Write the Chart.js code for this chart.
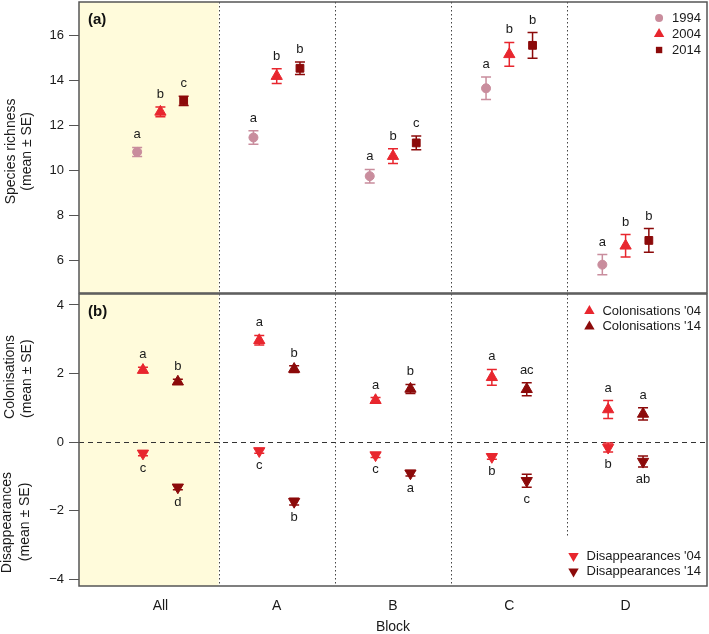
<!DOCTYPE html>
<html>
<head>
<meta charset="utf-8">
<script src="https://cdn.jsdelivr.net/npm/chart.js@4/dist/chart.umd.min.js"></script>
<style>
  html, body { margin: 0; padding: 0; background: #ffffff; }
  #wrapA { position: absolute; left: 0; top: 0; width: 709px; height: 296px; }
  #wrapB { position: absolute; left: 0; top: 292px; width: 709px; height: 342px; }
</style>
</head>
<body>
<div id="wrapA"><canvas id="chartA"></canvas></div>
<div id="wrapB"><canvas id="chartB"></canvas></div>
<script>
// categories and tick values
const blocks = ['All', 'A', 'B', 'C', 'D'];
const blockPos = [1, 2, 3, 4, 5];
const dividers = [1.5, 2.5, 3.5, 4.5];
const yTicksA = [6, 8, 10, 12, 14, 16];
const yTicksB = [-4, -2, 0, 2, 4];

// (a) species richness, mean and SE
const rich1994 = [10.83, 11.47, 9.75, 13.66, 5.81];
const rich1994se = [0.20, 0.30, 0.30, 0.50, 0.45];
const rich2004 = [12.61, 14.20, 10.64, 15.17, 6.65];
const rich2004se = [0.22, 0.33, 0.33, 0.53, 0.50];
const rich2014 = [13.10, 14.55, 11.23, 15.57, 6.89];
const rich2014se = [0.21, 0.28, 0.31, 0.57, 0.53];
const let1994 = ['a', 'a', 'a', 'a', 'a'];
const let2004 = ['b', 'b', 'b', 'b', 'b'];
const let2014 = ['c', 'b', 'c', 'b', 'b'];

// (b) colonisations / disappearances, mean and SE
const col04 = [2.10, 2.97, 1.22, 1.89, 0.95];
const col04se = [0.08, 0.14, 0.08, 0.23, 0.26];
const col14 = [1.76, 2.13, 1.55, 1.54, 0.82];
const col14se = [0.07, 0.10, 0.13, 0.19, 0.18];
const dis04 = [-0.33, -0.26, -0.38, -0.43, -0.16];
const dis04se = [0.07, 0.07, 0.07, 0.07, 0.13];
const dis14 = [-1.32, -1.74, -0.91, -1.13, -0.57];
const dis14se = [0.07, 0.10, 0.08, 0.19, 0.16];
const letCol04 = ['a', 'a', 'a', 'a', 'a'];
const letCol14 = ['b', 'b', 'b', 'ac', 'a'];
const letDis04 = ['c', 'c', 'c', 'b', 'b'];
const letDis14 = ['d', 'b', 'a', 'c', 'ab'];

const FONT = '"Liberation Sans", Arial, sans-serif';
const PINK = '#c98d9d';
const RED = '#e8262e';
const DARK = '#8c0a0a';

function series(label, values, se, letters, offset, color, style, radius, rotation, where) {
    return {
        label: label,
        data: values.map((v, i) => ({ x: blockPos[i] + offset, y: v })),
        se: se,
        letters: letters,
        where: where,
        backgroundColor: color,
        borderColor: color,
        borderWidth: 1,
        pointStyle: style,
        pointRadius: radius,
        pointHoverRadius: radius,
        rotation: rotation,
        showLine: false
    };
}

function marker(ctx, style, x, y, r, rot, color) {
    ctx.fillStyle = color;
    ctx.beginPath();
    if (style === 'circle') {
        ctx.arc(x, y, r, 0, Math.PI * 2);
    } else if (style === 'rect') {
        const s = Math.SQRT1_2 * r;
        ctx.rect(x - s, y - s, 2 * s, 2 * s);
    } else {
        let a = rot * Math.PI / 180;
        for (let k = 0; k < 3; k++) {
            const px = x + Math.sin(a) * r, py = y - Math.cos(a) * r;
            if (k === 0) ctx.moveTo(px, py); else ctx.lineTo(px, py);
            a += 2 * Math.PI / 3;
        }
        ctx.closePath();
    }
    ctx.fill();
}

// no extra label padding, so the plot box sits exactly on layout.padding
function noPad(s) {
    s.paddingTop = 0;
    s.paddingBottom = 0;
    s.paddingLeft = 0;
    s.paddingRight = 0;
}

const panelPlugin = {
    id: 'panel',
    beforeDatasetsDraw(chart, args, opts) {
        const ctx = chart.ctx;
        const a = chart.chartArea;
        const x = chart.scales.x, y = chart.scales.y;
        ctx.save();
        // shaded "All" block
        ctx.fillStyle = '#fffbdb';
        ctx.fillRect(a.left, a.top, x.getPixelForValue(dividers[0]) - a.left, a.bottom - a.top);

        // dotted block dividers
        ctx.strokeStyle = '#444';
        ctx.lineWidth = 1;
        ctx.setLineDash([1.5, 2.5]);
        dividers.forEach((d, i) => {
            const px = Math.round(x.getPixelForValue(d)) + 0.5;
            const end = opts.dividerEnd && opts.dividerEnd[i] != null ? y.getPixelForValue(opts.dividerEnd[i]) : a.bottom;
            ctx.beginPath();
            ctx.moveTo(px, a.top);
            ctx.lineTo(px, end);
            ctx.stroke();
        });

        if (opts.zeroLine) {
            const py = Math.round(y.getPixelForValue(0)) + 0.5;
            ctx.setLineDash([5, 4]);
            ctx.strokeStyle = '#333';
            ctx.beginPath();
            ctx.moveTo(a.left, py);
            ctx.lineTo(a.right, py);
            ctx.stroke();
        }
        ctx.setLineDash([]);

        // error bars
        ctx.lineWidth = 1.5;
        chart.data.datasets.forEach(ds => {
            ctx.strokeStyle = ds.borderColor;
            ds.data.forEach((pt, j) => {
                const px = x.getPixelForValue(pt.x);
                const top = y.getPixelForValue(pt.y + ds.se[j]);
                const bot = y.getPixelForValue(pt.y - ds.se[j]);
                ctx.beginPath();
                ctx.moveTo(px, top); ctx.lineTo(px, bot);
                ctx.moveTo(px - 5, top); ctx.lineTo(px + 5, top);
                ctx.moveTo(px - 5, bot); ctx.lineTo(px + 5, bot);
                ctx.stroke();
            });
        });
        ctx.restore();
    },
    afterDatasetsDraw(chart, args, opts) {
        const ctx = chart.ctx;
        const a = chart.chartArea;
        const x = chart.scales.x, y = chart.scales.y;
        ctx.save();
        // significance letters
        ctx.font = '13px ' + FONT;
        ctx.fillStyle = '#1a1a1a';
        ctx.textAlign = 'center';
        ctx.textBaseline = 'alphabetic';
        chart.data.datasets.forEach(ds => {
            ds.data.forEach((pt, j) => {
                const px = x.getPixelForValue(pt.x);
                if (ds.where === 'below') {
                    ctx.fillText(ds.letters[j], px, y.getPixelForValue(pt.y - ds.se[j]) + 16);
                } else {
                    ctx.fillText(ds.letters[j], px, y.getPixelForValue(pt.y + ds.se[j]) - 9);
                }
            });
        });

        // box
        ctx.strokeStyle = '#555';
        ctx.lineWidth = 1.5;
        ctx.strokeRect(a.left, a.top, a.right - a.left, a.bottom - a.top);

        // panel tag
        ctx.font = 'bold 15px ' + FONT;
        ctx.textAlign = 'left';
        ctx.fillStyle = '#111';
        ctx.fillText(opts.tag, a.left + 9, a.top + 22);

        // legends
        ctx.font = '13px ' + FONT;
        (opts.legends || []).forEach(lg => {
            lg.items.forEach((it, k) => {
                const ds = chart.data.datasets[it];
                const ty = lg.y + k * lg.step;
                ctx.fillStyle = '#1a1a1a';
                ctx.textAlign = 'right';
                ctx.textBaseline = 'middle';
                ctx.fillText(ds.label, a.right - 6, ty);
                const w = ctx.measureText(ds.label).width;
                marker(ctx, ds.pointStyle, a.right - 6 - w - 13, ty, lg.r[k], ds.rotation, ds.backgroundColor);
            });
        });

        // y axis titles
        ctx.fillStyle = '#1a1a1a';
        ctx.font = '14px ' + FONT;
        ctx.textAlign = 'center';
        ctx.textBaseline = 'middle';
        (opts.titles || []).forEach(t => {
            const cy = y.getPixelForValue(t.at);
            ctx.save();
            ctx.translate(t.x, cy);
            ctx.rotate(-Math.PI / 2);
            ctx.fillText(t.text, 0, 0);
            ctx.restore();
        });

        if (opts.xTitle) {
            ctx.fillText(opts.xTitle, (a.left + a.right) / 2, chart.height - 7);
        }
        ctx.restore();
    }
};

function yScale(min, max, ticks) {
    return {
        type: 'linear',
        min: min,
        max: max,
        afterBuildTicks: s => { s.ticks = ticks.map(v => ({ value: v })); },
        afterFit: s => { s.width = 79; noPad(s); },
        border: { display: false },
        grid: { drawOnChartArea: false, drawTicks: true, tickLength: 10, tickColor: '#555', tickWidth: 1 },
        ticks: {
            padding: 5,
            color: '#1a1a1a',
            font: { family: FONT, size: 13 },
            callback: v => String(v).replace('-', '\u2212')
        }
    };
}

Chart.defaults.animation = false;

new Chart(document.getElementById('chartA'), {
    type: 'scatter',
    data: {
        datasets: [
            series('1994', rich1994, rich1994se, let1994, -0.2, PINK, 'circle', 4.5, 0, 'above'),
            series('2004', rich2004, rich2004se, let2004, 0, RED, 'triangle', 6.5, 0, 'above'),
            series('2014', rich2014, rich2014se, let2014, 0.2, DARK, 'rect', 5.5, 0, 'above')
        ]
    },
    options: {
        responsive: true,
        maintainAspectRatio: false,
        layout: { autoPadding: false, padding: { top: 2, right: 2, bottom: 3, left: 0 } },
        plugins: {
            legend: { display: false },
            tooltip: { enabled: false },
            panel: {
                tag: '(a)',
                legends: [{ items: [0, 1, 2], y: 18, step: 16, r: [4, 6, 4.5] }],
                titles: [
                    { text: 'Species richness', x: 11, at: 10.85 },
                    { text: '(mean \u00b1 SE)', x: 27, at: 10.85 }
                ]
            }
        },
        scales: {
            x: { type: 'linear', min: 0.3, max: 5.7, display: false, afterFit: noPad },
            y: yScale(4.55, 17.5, yTicksA)
        }
    },
    plugins: [panelPlugin]
});

new Chart(document.getElementById('chartB'), {
    type: 'scatter',
    data: {
        datasets: [
            series("Colonisations '04", col04, col04se, letCol04, -0.15, RED, 'triangle', 6.5, 0, 'above'),
            series("Colonisations '14", col14, col14se, letCol14, 0.15, DARK, 'triangle', 6.5, 0, 'above'),
            series("Disappearances '04", dis04, dis04se, letDis04, -0.15, RED, 'triangle', 6.5, 180, 'below'),
            series("Disappearances '14", dis14, dis14se, letDis14, 0.15, DARK, 'triangle', 6.5, 180, 'below')
        ]
    },
    options: {
        responsive: true,
        maintainAspectRatio: false,
        layout: { autoPadding: false, padding: { top: 2, right: 2, bottom: 0, left: 0 } },
        plugins: {
            legend: { display: false },
            tooltip: { enabled: false },
            panel: {
                tag: '(b)',
                zeroLine: true,
                dividerEnd: [null, null, null, -2.8],
                legends: [
                    { items: [0, 1], y: 19, step: 15.5, r: [6, 6] },
                    { items: [2, 3], y: 264, step: 15.5, r: [6, 6] }
                ],
                titles: [
                    { text: 'Colonisations', x: 10, at: 1.9 },
                    { text: '(mean \u00b1 SE)', x: 27, at: 1.85 },
                    { text: 'Disappearances', x: 7, at: -2.35 },
                    { text: '(mean \u00b1 SE)', x: 25, at: -2.33 }
                ],
                xTitle: 'Block'
            }
        },
        scales: {
            x: {
                type: 'linear',
                min: 0.3,
                max: 5.7,
                afterBuildTicks: s => { s.ticks = blockPos.map(v => ({ value: v })); },
                afterFit: s => { s.height = 48; noPad(s); },
                border: { display: false },
                grid: { display: false, drawTicks: false },
                ticks: {
                    padding: 12,
                    maxRotation: 0,
                    color: '#1a1a1a',
                    font: { family: FONT, size: 14 },
                    callback: v => blocks[blockPos.indexOf(v)]
                }
            },
            y: yScale(-4.2, 4.32, yTicksB)
        }
    },
    plugins: [panelPlugin]
});
</script>
</body>
</html>
